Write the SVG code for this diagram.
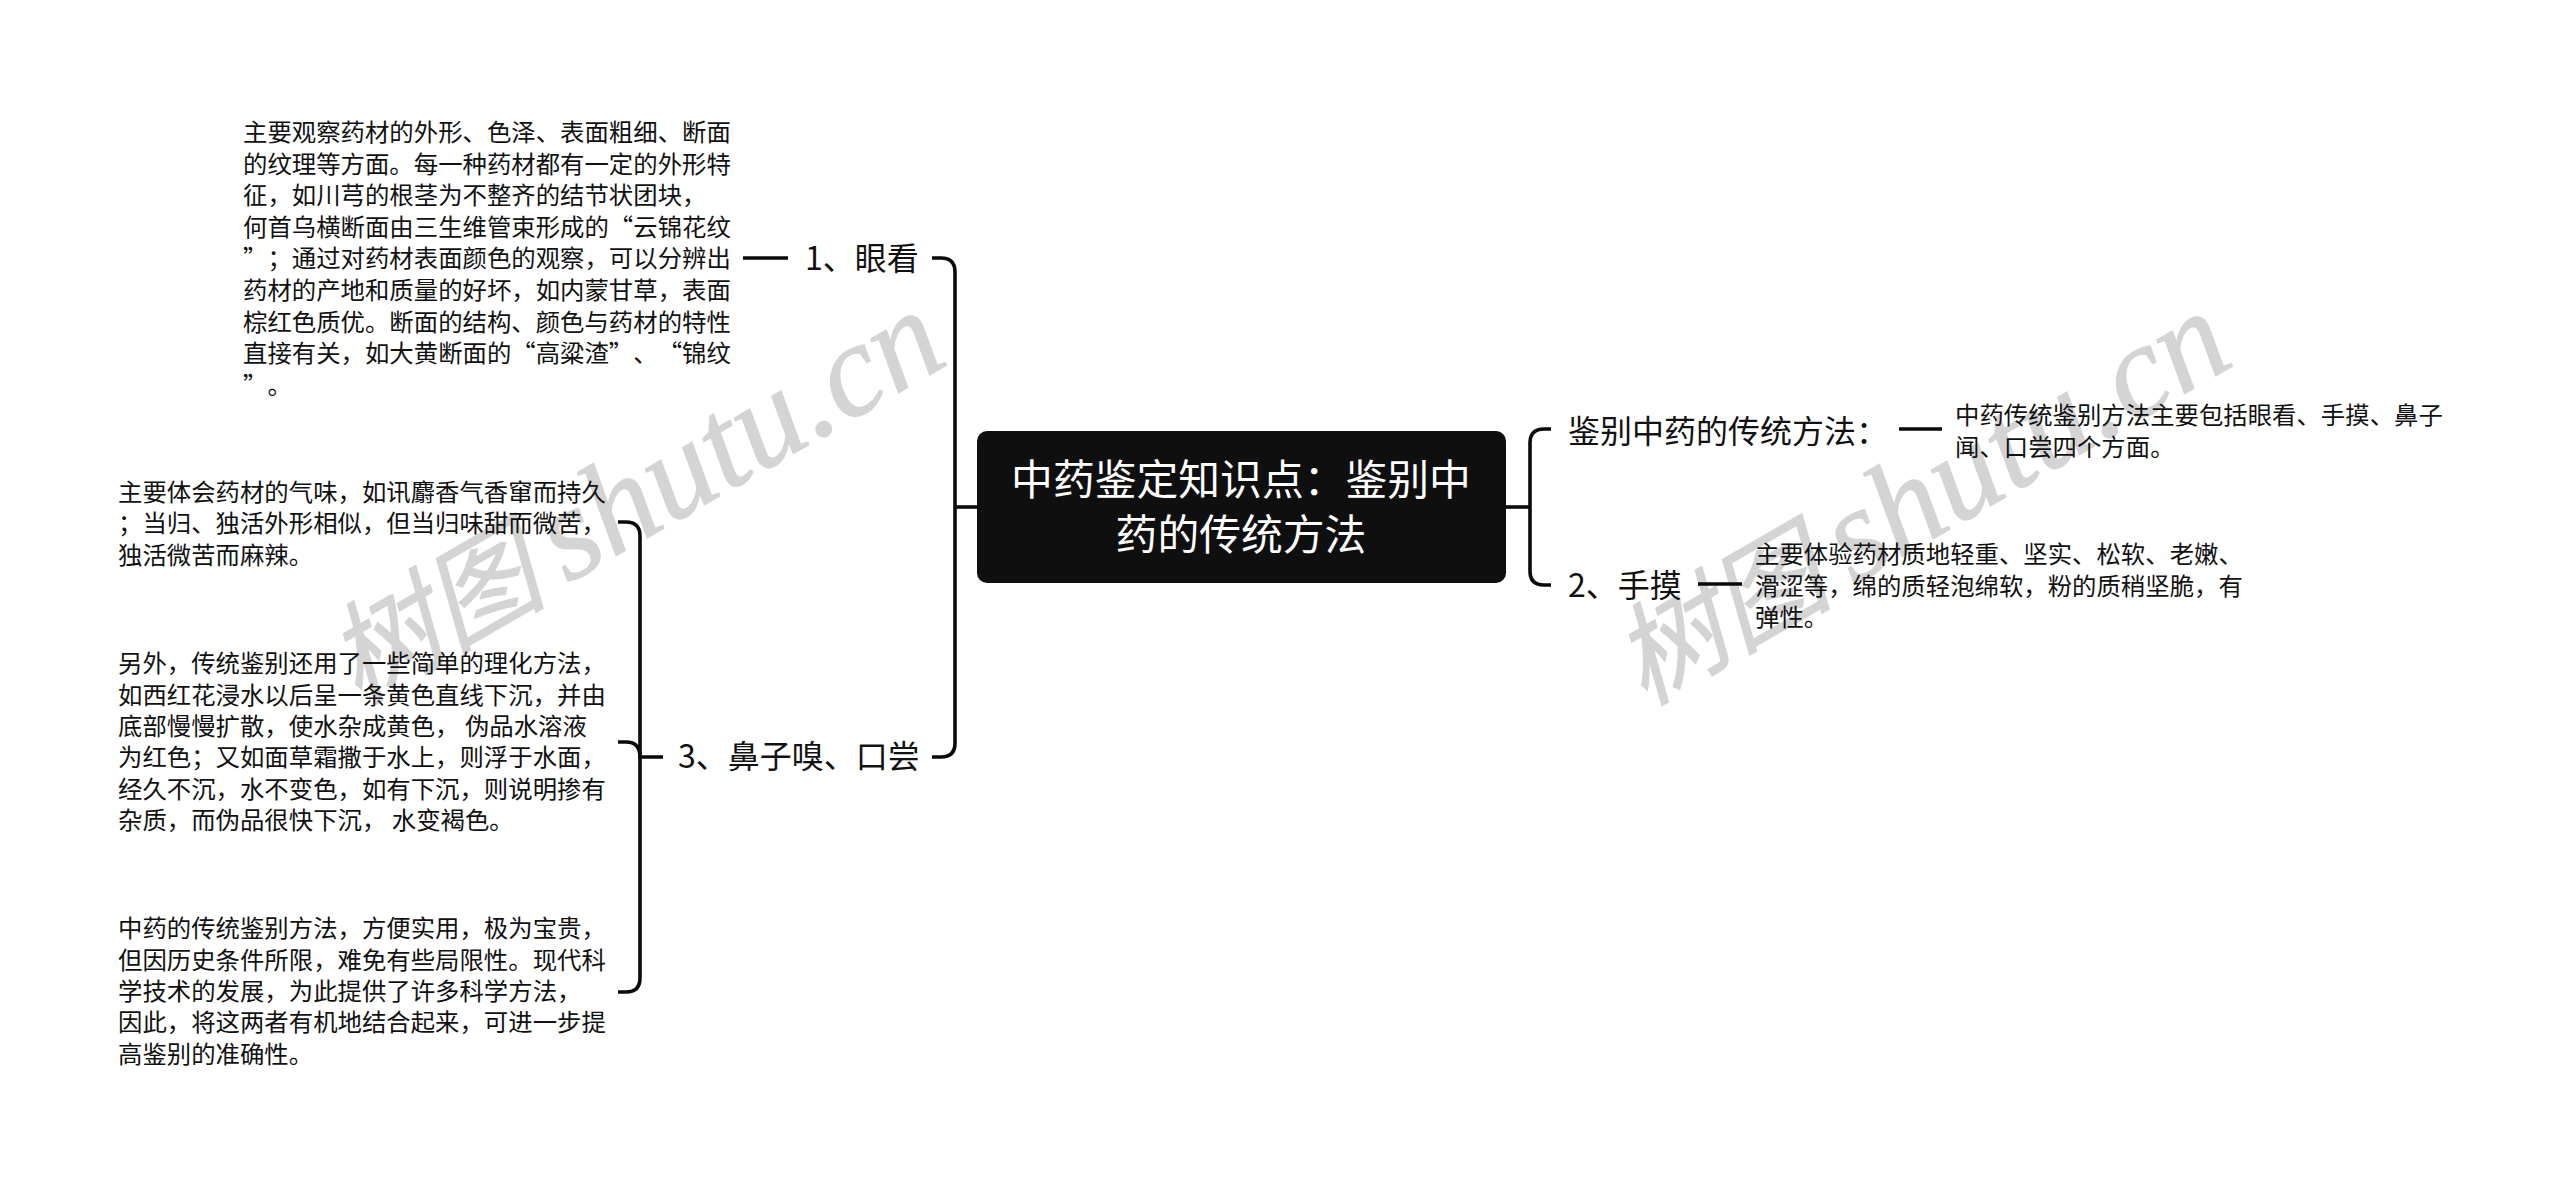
<svg xmlns="http://www.w3.org/2000/svg" width="2560" height="1185" viewBox="0 0 2560 1185">
<style>
text{font-family:"Noto Sans CJK SC","Liberation Sans",sans-serif;fill:#111;text-spacing-trim:space-all}
.b{font-size:24.4px}
.c{font-size:32px}
.t{font-size:41.8px;fill:#fff;text-anchor:middle}
.w{font-family:"Liberation Serif","Noto Sans CJK SC",serif;font-style:italic;font-size:110px;fill:#d4d4d4;stroke:#d4d4d4;stroke-width:1.2}
.w tspan{font-size:132px}
.l{fill:none;stroke:#0a0a0a;stroke-width:3.6}
</style>
<rect width="2560" height="1185" fill="#fff"/>
<g id="watermarks">
<text class="w" transform="translate(358 705) rotate(-30)">树图<tspan dx="22">shutu.cn</tspan></text>
<text class="w" transform="translate(1644 706) rotate(-30)">树图<tspan dx="22">shutu.cn</tspan></text>
</g>
<g id="connectors" class="l">
<path d="M932 258H941Q955 258 955 272V743Q955 757 941 757H932"/>
<path d="M955 507H977"/>
<path d="M743 258H788"/>
<path d="M618 522H626Q640 522 640 536V978Q640 992 626 992H618"/>
<path d="M618 742H626Q640 742 640 757H663"/>
<path d="M1551 429H1544Q1530 429 1530 443V571Q1530 585 1544 585H1551"/>
<path d="M1506 507H1530"/>
<path d="M1899 429H1942"/>
<path d="M1698 584H1742"/>
</g>
<g id="root">
<rect x="977" y="431" width="529" height="152" rx="10" fill="#0f0f0f"/>
<text class="t" x="1241" y="495">中药鉴定知识点：鉴别中</text>
<text class="t" x="1241" y="550">药的传统方法</text>
</g>
<g id="n1"><text class="c" x="805" y="270">1、眼看</text></g>
<g id="n1-text">
<text class="b" x="243" y="141">主要观察药材的外形、色泽、表面粗细、断面</text>
<text class="b" x="243" y="173">的纹理等方面。每一种药材都有一定的外形特</text>
<text class="b" x="243" y="204">征，如川芎的根茎为不整齐的结节状团块，</text>
<text class="b" x="243" y="236">何首乌横断面由三生维管束形成的“云锦花纹</text>
<text class="b" x="243" y="267">”；通过对药材表面颜色的观察，可以分辨出</text>
<text class="b" x="243" y="299">药材的产地和质量的好坏，如内蒙甘草，表面</text>
<text class="b" x="243" y="331">棕红色质优。断面的结构、颜色与药材的特性</text>
<text class="b" x="243" y="362">直接有关，如大黄断面的“高粱渣”、“锦纹</text>
<text class="b" x="243" y="394">”。</text>
</g>
<g id="n3"><text class="c" x="678" y="768">3、鼻子嗅、口尝</text></g>
<g id="n3-text1">
<text class="b" x="118" y="501">主要体会药材的气味，如讯麝香气香窜而持久</text>
<text class="b" x="118" y="532">；当归、独活外形相似，但当归味甜而微苦，</text>
<text class="b" x="118" y="564">独活微苦而麻辣。</text>
</g>
<g id="n3-text2">
<text class="b" x="118" y="672">另外，传统鉴别还用了一些简单的理化方法，</text>
<text class="b" x="118" y="704">如西红花浸水以后呈一条黄色直线下沉，并由</text>
<text class="b" x="118" y="735">底部慢慢扩散，使水杂成黄色， 伪品水溶液</text>
<text class="b" x="118" y="766">为红色；又如面草霜撒于水上，则浮于水面，</text>
<text class="b" x="118" y="798">经久不沉，水不变色，如有下沉，则说明掺有</text>
<text class="b" x="118" y="829">杂质，而伪品很快下沉， 水变褐色。</text>
</g>
<g id="n3-text3">
<text class="b" x="118" y="937">中药的传统鉴别方法，方便实用，极为宝贵，</text>
<text class="b" x="118" y="969">但因历史条件所限，难免有些局限性。现代科</text>
<text class="b" x="118" y="1000">学技术的发展，为此提供了许多科学方法，</text>
<text class="b" x="118" y="1031">因此，将这两者有机地结合起来，可进一步提</text>
<text class="b" x="118" y="1063">高鉴别的准确性。</text>
</g>
<g id="n0"><text class="c" x="1568" y="443">鉴别中药的传统方法：</text></g>
<g id="n0-text">
<text class="b" x="1955" y="424">中药传统鉴别方法主要包括眼看、手摸、鼻子</text>
<text class="b" x="1955" y="456">闻、口尝四个方面。</text>
</g>
<g id="n2"><text class="c" x="1568" y="597">2、手摸</text></g>
<g id="n2-text">
<text class="b" x="1755" y="563">主要体验药材质地轻重、坚实、松软、老嫩、</text>
<text class="b" x="1755" y="595">滑涩等，绵的质轻泡绵软，粉的质稍坚脆，有</text>
<text class="b" x="1755" y="626">弹性。</text>
</g>
</svg>
